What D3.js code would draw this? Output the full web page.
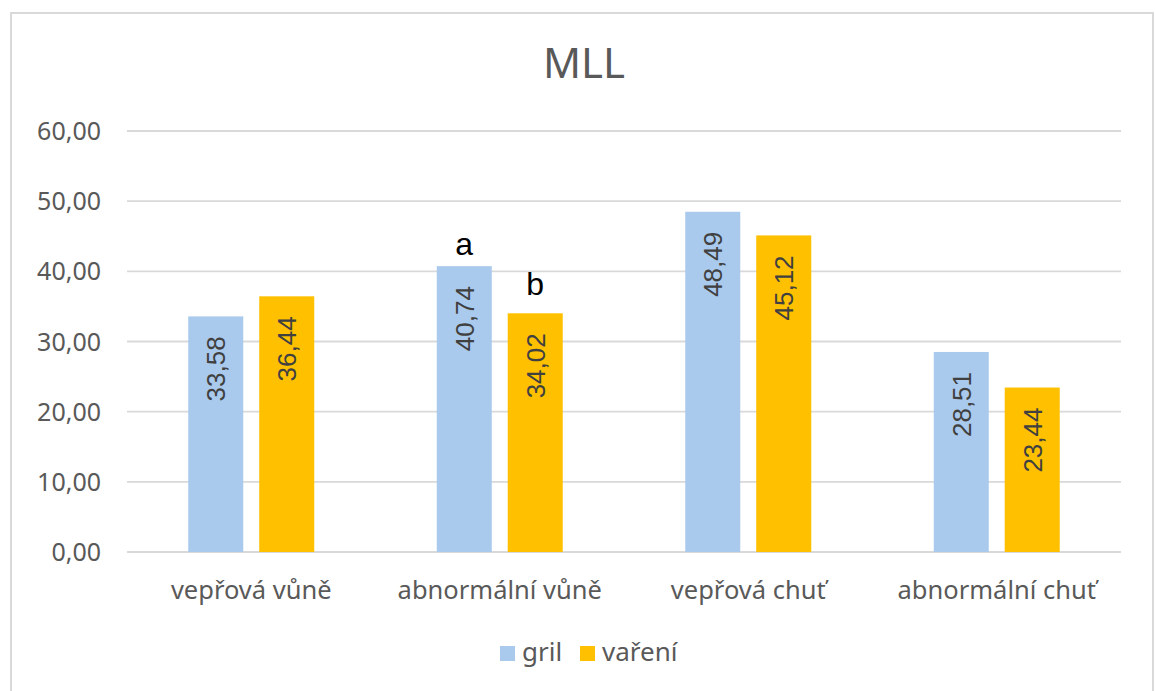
<!DOCTYPE html>
<html>
<head>
<meta charset="utf-8">
<script src="https://cdn.jsdelivr.net/npm/d3@7"></script>
<style>
  body { margin: 0; background: #fff; }
  svg { display: block; }
</style>
</head>
<body>
<div class="chart"></div>
<script>
// data
var categories = ["vepřová vůně", "abnormální vůně", "vepřová chuť", "abnormální chuť"];
var series = ["gril", "vaření"];
var grilValues = [33.58, 40.74, 48.49, 28.51];
var vareniValues = [36.44, 34.02, 45.12, 23.44];
var grilNotes = ["", "a", "", ""];
var vareniNotes = ["", "b", "", ""];
var yTicks = [0, 10, 20, 30, 40, 50, 60];
var colors = ["#a9caec", "#ffc000"];

var svgWidth = 1155, svgHeight = 691;
var margin = {left: 127, right: 34, top: 131, bottom: 139};

var svg = d3.select(".chart").append("svg")
  .attr("width", svgWidth)
  .attr("height", svgHeight);

// outer frame
svg.append("rect")
  .attr("x", 11).attr("y", 13)
  .attr("width", 1142).attr("height", 700)
  .attr("fill", "#fff")
  .attr("stroke", "#d9d9d9")
  .attr("stroke-width", 2);

var x0 = d3.scaleBand()
  .domain(categories)
  .range([margin.left, svgWidth - margin.right]);

var x1 = d3.scaleBand()
  .domain(series)
  .range([0, x0.bandwidth()])
  .paddingInner(0.225)
  .paddingOuter(0.863);

var y = d3.scaleLinear()
  .domain([0, 60])
  .range([svgHeight - margin.bottom, margin.top]);

// gridlines
svg.append("g").selectAll("line")
  .data(yTicks)
  .enter().append("line")
  .attr("x1", margin.left)
  .attr("x2", svgWidth - margin.right)
  .attr("y1", d => y(d))
  .attr("y2", d => y(d))
  .attr("stroke", "#d9d9d9")
  .attr("stroke-width", 1.8);

// y axis labels
var fmt = d => d.toFixed(2).replace(".", ",");
svg.append("g").selectAll("text")
  .data(yTicks)
  .enter().append("text")
  .attr("x", 101)
  .attr("y", d => y(d))
  .attr("dy", "0.36em")
  .attr("text-anchor", "end")
  .attr("font-family", "Noto Sans")
  .attr("font-size", 25)
  .attr("fill", "#595959")
  .text(fmt);

// category labels
svg.append("g").selectAll("text")
  .data(categories)
  .enter().append("text")
  .attr("x", d => x0(d) + x0.bandwidth() / 2)
  .attr("y", 599)
  .attr("text-anchor", "middle")
  .attr("font-family", "Noto Sans")
  .attr("font-size", 25.5)
  .attr("fill", "#595959")
  .text(d => d);

// bars
var rows = categories.map((c, i) => ({
  cat: c,
  vals: [
    {s: series[0], v: grilValues[i], note: grilNotes[i], c: colors[0]},
    {s: series[1], v: vareniValues[i], note: vareniNotes[i], c: colors[1]}
  ]
}));

var groups = svg.append("g").selectAll("g")
  .data(rows)
  .enter().append("g")
  .attr("transform", d => `translate(${x0(d.cat)},0)`);

var bar = groups.selectAll("g")
  .data(d => d.vals)
  .enter().append("g");

bar.append("rect")
  .attr("x", d => x1(d.s))
  .attr("y", d => y(d.v))
  .attr("width", x1.bandwidth())
  .attr("height", d => y(0) - y(d.v))
  .attr("fill", d => d.c);

// value labels, rotated, inside end
bar.append("text")
  .attr("transform", d => `translate(${x1(d.s) + x1.bandwidth() / 2},${y(d.v) + 20}) rotate(-90)`)
  .attr("text-anchor", "end")
  .attr("dy", "0.36em")
  .attr("font-family", "Liberation Sans")
  .attr("font-size", 26)
  .attr("fill", "#404040")
  .text(d => d.v.toFixed(2).replace(".", ","));

// significance letters
bar.append("text")
  .attr("x", d => x1(d.s) + x1.bandwidth() / 2)
  .attr("y", d => y(d.v) - (d.s === "gril" ? 11 : 18))
  .attr("text-anchor", "middle")
  .attr("font-family", "Liberation Sans")
  .attr("font-size", 32)
  .attr("fill", "#000")
  .text(d => d.note);

// title
svg.append("text")
  .attr("x", 584)
  .attr("y", 78)
  .attr("text-anchor", "middle")
  .attr("font-family", "Noto Sans")
  .attr("font-size", 42)
  .attr("fill", "#595959")
  .text("MLL");

// legend
var legend = svg.append("g").selectAll("g")
  .data(series)
  .enter().append("g")
  .attr("transform", (d, i) => `translate(${i === 0 ? 500 : 580},646)`);

legend.append("rect")
  .attr("width", 15).attr("height", 15)
  .attr("fill", (d, i) => colors[i]);

legend.append("text")
  .attr("x", 22)
  .attr("y", 15)
  .attr("font-family", "Noto Sans")
  .attr("font-size", 26)
  .attr("fill", "#595959")
  .text(d => d);
</script>
</body>
</html>
